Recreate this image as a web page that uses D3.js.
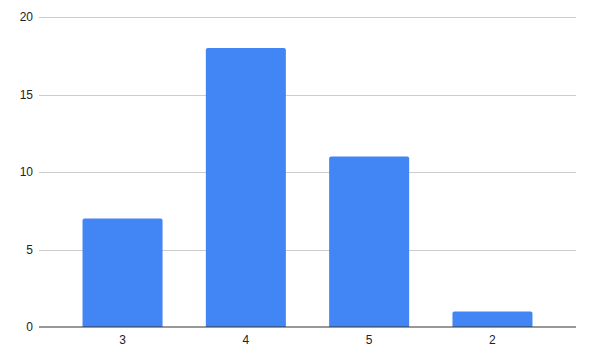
<!DOCTYPE html>
<html><head><meta charset="utf-8">
<script src="https://cdn.jsdelivr.net/npm/d3@7"></script>
<style>body{margin:0;background:#fff}svg{display:block}text{font-family:Arial,"Liberation Sans",sans-serif}</style>
</head><body>
<svg id="c" width="589" height="357"></svg>
<script>
const categories = ["3", "4", "5", "2"];
const values = [7, 18, 11, 1];
const yTicks = [0, 5, 10, 15, 20];

(function () {
const svg = d3.select("#c");
const mLeft = 39, mRight = 576, mTop = 17, mBottom = 327;
const x = d3.scaleBand().domain(categories).range([mLeft, mRight]).paddingInner(0.351).paddingOuter(0.353);
const y = d3.scaleLinear().domain([0, 20]).range([mBottom, mTop]);

svg.append("g").selectAll("line").data(yTicks.filter(d => d !== 0)).join("line")
  .attr("x1", mLeft).attr("x2", mRight)
  .attr("y1", d => Math.round(y(d)) + 0.5).attr("y2", d => Math.round(y(d)) + 0.5)
  .attr("stroke", "#cccccc").attr("stroke-width", 1);

svg.append("g").selectAll("text").data(yTicks).join("text")
  .attr("x", 33).attr("y", d => y(d)).attr("dy", "0.35em")
  .attr("text-anchor", "end").attr("font-size", 12).attr("fill", "#222")
  .text(d => d);

svg.append("g").selectAll("path").data(categories).join("path")
  .attr("fill", "#4285f4")
  .attr("d", (c, i) => {
    const x0 = x(c), w = x.bandwidth(), y0 = y(values[i]), y1 = y(0), r = 2;
    return `M${x0},${y1}V${y0 + r}Q${x0},${y0} ${x0 + r},${y0}H${x0 + w - r}Q${x0 + w},${y0} ${x0 + w},${y0 + r}V${y1}Z`;
  });

svg.append("line").attr("x1", mLeft).attr("x2", mRight)
  .attr("y1", y(0)).attr("y2", y(0)).attr("stroke", "#333").attr("stroke-width", 1);

svg.append("g").selectAll("text").data(categories).join("text")
  .attr("x", c => x(c) + x.bandwidth() / 2).attr("y", 344)
  .attr("text-anchor", "middle").attr("font-size", 12).attr("fill", "#222")
  .text(c => c);
})();
</script>
</body></html>
